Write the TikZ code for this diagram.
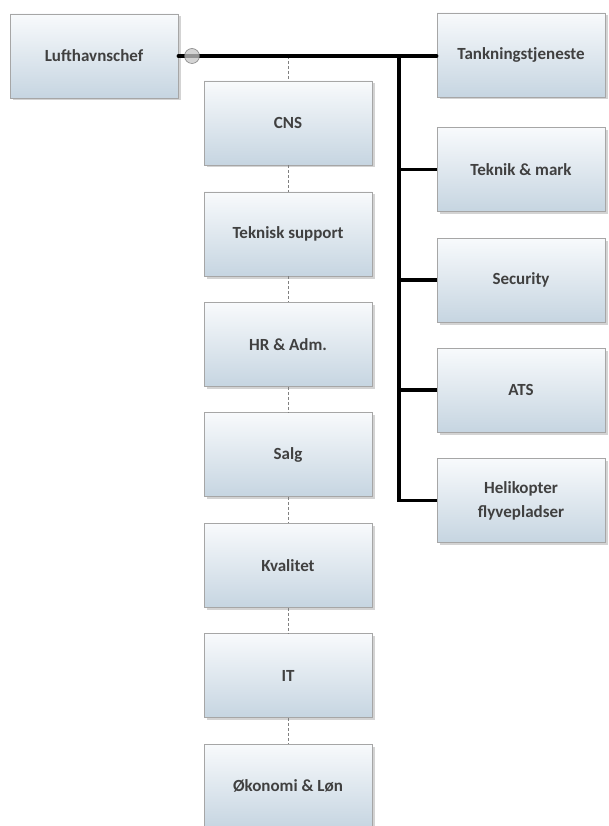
\documentclass[tikz,border=0pt]{standalone}
\usepackage{fontspec}
\setmainfont{Carlito}
\usetikzlibrary{shadows}
\definecolor{boxtop}{HTML}{F8FAFC}
\definecolor{boxbot}{HTML}{C6D5E1}
\definecolor{boxline}{HTML}{A6A6A6}
\definecolor{txt}{HTML}{404040}
\tikzset{
  unit/.style={draw=boxline, line width=0.8pt, top color=boxtop, bottom color=boxbot,
    minimum width=168pt, minimum height=84pt, inner sep=2pt, align=center,
    font=\bfseries\fontsize{17}{24}\selectfont, text=txt,
    drop shadow={shadow xshift=2.5pt, shadow yshift=-2.5pt, opacity=0.35}},
  thickline/.style={line width=3.6pt, black},
  dashline/.style={draw=gray, line width=0.7pt, dash pattern=on 3pt off 2pt}
}
\begin{document}
\begin{tikzpicture}[x=1pt,y=-1pt]
\useasboundingbox (0,0) rectangle (608,826);
\clip (0,0) rectangle (608,826);
\coordinate (dtop) at (288,56);
\node[unit] (cns) at (288,123) {CNS};
\node[unit] (ts) at (288,234) {Teknisk support};
\node[unit] (hr) at (288,344.5) {HR \& Adm.};
\node[unit] (salg) at (288,454.5) {Salg};
\node[unit] (kval) at (288,565.5) {Kvalitet};
\node[unit] (it) at (288,675.5) {IT};
\node[unit] (oko) at (288,786) {Økonomi \& Løn};
\node[unit] (luft) at (94,56) {Lufthavnschef};
\node[unit] (tank) at (521,55) {Tankningstjeneste};
\node[unit] (tek) at (521,169.5) {Teknik \& mark};
\node[unit] (sec) at (521,280) {Security};
\node[unit] (ats) at (521,390) {ATS};
\node[unit] (heli) at (521,500.5) {Helikopter\\flyvepladser};
% dashed connectors
\draw[dashline] (dtop) -- (cns.north);
\draw[dashline] (cns.south) -- (ts.north);
\draw[dashline] (ts.south) -- (hr.north);
\draw[dashline] (hr.south) -- (salg.north);
\draw[dashline] (salg.south) -- (kval.north);
\draw[dashline] (kval.south) -- (it.north);
\draw[dashline] (it.south) -- (oko.north);
% thick connectors
\coordinate (bus) at (399,56);
\coordinate (ring) at (192,56);
\draw[thickline, line cap=round] (luft.east) -- (tank.west |- bus);
\draw[thickline, line join=miter] (bus) -- (bus |- heli.west) -- (heli.west);
\draw[thickline] (bus |- tek.west) -- (tek.west);
\draw[thickline] (bus |- sec.west) -- (sec.west);
\draw[thickline] (bus |- ats.west) -- (ats.west);
\fill[gray!45, draw=gray!80!black, line width=0.6pt, opacity=0.75] (ring) circle (7.5pt);
\end{tikzpicture}
\end{document}
